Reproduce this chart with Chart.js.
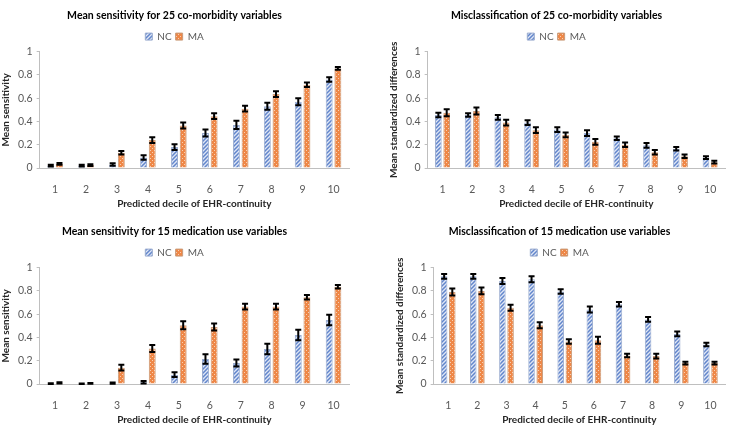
<!DOCTYPE html>
<html>
<head>
<meta charset="utf-8">
<script src="https://cdn.jsdelivr.net/npm/chart.js@4.4.1/dist/chart.umd.min.js"></script>
<style>
body { margin: 0; background: #fff; }
.panel { position: absolute; width: 376px; height: 216px; }
</style>
</head>
<body>
<div class="panel" style="left:0;top:0"><canvas id="c1" width="376" height="216"></canvas></div>
<div class="panel" style="left:376px;top:0"><canvas id="c2" width="376" height="216"></canvas></div>
<div class="panel" style="left:0;top:216px"><canvas id="c3" width="376" height="216"></canvas></div>
<div class="panel" style="left:376px;top:216px"><canvas id="c4" width="376" height="216"></canvas></div>
<script>
const deciles = ['1', '2', '3', '4', '5', '6', '7', '8', '9', '10'];
const yTicks = [0, 0.2, 0.4, 0.6, 0.8, 1];

// co-morbidity sensitivity
const sensComNC = [0.02, 0.02, 0.03, 0.09, 0.18, 0.30, 0.37, 0.53, 0.57, 0.76];
const sensComNCErr = [0.008, 0.008, 0.01, 0.02, 0.025, 0.03, 0.035, 0.03, 0.03, 0.02];
const sensComMA = [0.035, 0.025, 0.13, 0.24, 0.365, 0.445, 0.51, 0.635, 0.715, 0.855];
const sensComMAErr = [0.008, 0.008, 0.015, 0.025, 0.025, 0.025, 0.025, 0.025, 0.02, 0.012];

// co-morbidity misclassification
const miscComNC = [0.455, 0.455, 0.435, 0.39, 0.33, 0.30, 0.255, 0.195, 0.165, 0.09];
const miscComNCErr = [0.02, 0.015, 0.02, 0.02, 0.02, 0.025, 0.015, 0.02, 0.015, 0.012];
const miscComMA = [0.475, 0.49, 0.39, 0.325, 0.285, 0.225, 0.20, 0.135, 0.10, 0.05];
const miscComMAErr = [0.03, 0.03, 0.025, 0.025, 0.02, 0.025, 0.02, 0.02, 0.015, 0.012];

// medication use sensitivity
const sensMedNC = [0.003, 0.002, 0.007, 0.015, 0.08, 0.215, 0.18, 0.30, 0.42, 0.55];
const sensMedNCErr = [0.003, 0.002, 0.005, 0.01, 0.02, 0.04, 0.03, 0.045, 0.045, 0.045];
const sensMedMA = [0.01, 0.005, 0.14, 0.305, 0.505, 0.49, 0.665, 0.665, 0.745, 0.835];
const sensMedMAErr = [0.005, 0.003, 0.025, 0.03, 0.035, 0.03, 0.025, 0.025, 0.02, 0.015];

// medication use misclassification
const miscMedNC = [0.925, 0.925, 0.885, 0.90, 0.795, 0.64, 0.685, 0.555, 0.43, 0.34];
const miscMedNCErr = [0.02, 0.02, 0.025, 0.025, 0.02, 0.025, 0.02, 0.02, 0.02, 0.015];
const miscMedMA = [0.79, 0.80, 0.655, 0.505, 0.365, 0.375, 0.245, 0.24, 0.18, 0.18];
const miscMedMAErr = [0.03, 0.03, 0.025, 0.025, 0.02, 0.03, 0.015, 0.02, 0.012, 0.012];

const FONT = 'Lato, "Open Sans", sans-serif';

// Hatch fills like the Excel pattern fills
function stripePattern() {
    const c = document.createElement('canvas');
    c.width = 4; c.height = 4;
    const g = c.getContext('2d');
    g.fillStyle = '#dfe6f5';
    g.fillRect(0, 0, 4, 4);
    g.strokeStyle = '#6286cc';
    g.lineWidth = 1.5;
    g.beginPath();
    g.moveTo(-1, 5); g.lineTo(5, -1);
    g.moveTo(-1, 1); g.lineTo(1, -1);
    g.moveTo(3, 5); g.lineTo(5, 3);
    g.stroke();
    return g.createPattern(c, 'repeat');
}

function checkPattern() {
    const c = document.createElement('canvas');
    c.width = 4; c.height = 4;
    const g = c.getContext('2d');
    g.fillStyle = '#ee8747';
    g.fillRect(0, 0, 4, 4);
    g.fillStyle = '#f8cfb2';
    g.fillRect(0, 0, 1, 1);
    g.fillRect(2, 2, 1, 1);
    return g.createPattern(c, 'repeat');
}

// Error bars drawn with the chart's own y scale
const errorBars = {
    id: 'errorBars',
    afterDatasetsDraw(chart) {
        const ctx = chart.ctx;
        const y = chart.scales.y;
        ctx.save();
        ctx.strokeStyle = '#000';
        chart.data.datasets.forEach((ds, i) => {
            const meta = chart.getDatasetMeta(i);
            meta.data.forEach((bar, j) => {
                const v = ds.data[j];
                const e = ds.errors[j];
                const top = y.getPixelForValue(v + e);
                const bot = y.getPixelForValue(v - e);
                ctx.lineWidth = 2;
                ctx.beginPath();
                ctx.moveTo(bar.x, top);
                ctx.lineTo(bar.x, bot);
                ctx.moveTo(bar.x - 3, top);
                ctx.lineTo(bar.x + 3, top);
                ctx.moveTo(bar.x - 3, bot);
                ctx.lineTo(bar.x + 3, bot);
                ctx.stroke();
            });
        });
        ctx.restore();
    }
};

function makeChart(id, title, yTitle, nc, ncErr, ma, maErr, padLeft) {
    const ctx = document.getElementById(id).getContext('2d');
    return new Chart(ctx, {
        type: 'bar',
        data: {
            labels: deciles,
            datasets: [{
                label: 'NC',
                data: nc,
                errors: ncErr,
                backgroundColor: stripePattern(),
                borderColor: '#9aaccf',
                borderWidth: 1,
                categoryPercentage: 0.56,
                barPercentage: 0.8
            }, {
                label: 'MA',
                data: ma,
                errors: maErr,
                backgroundColor: checkPattern(),
                borderColor: '#c99a78',
                borderWidth: 1,
                categoryPercentage: 0.56,
                barPercentage: 0.8
            }]
        },
        options: {
            responsive: false,
            animation: false,
            layout: { padding: { left: padLeft, right: 27, top: 3, bottom: 4 } },
            plugins: {
                title: {
                    display: true,
                    text: title,
                    color: '#000',
                    font: { family: FONT, size: 10.5, weight: 'bold' },
                    padding: { top: 6, bottom: 6 }
                },
                legend: {
                    display: true,
                    labels: {
                        color: '#595959',
                        font: { family: FONT, size: 10 },
                        boxWidth: 7,
                        boxHeight: 7,
                        padding: 4
                    }
                },
                tooltip: { enabled: false }
            },
            scales: {
                x: {
                    afterFit: s => { s.height = 44; },
                    grid: { display: false },
                    border: { color: '#bfbfbf', width: 1 },
                    ticks: { color: '#595959', font: { family: FONT, size: 10.5 }, padding: 7 },
                    title: {
                        display: true,
                        text: 'Predicted decile of EHR-continuity',
                        color: '#262626',
                        font: { family: FONT, size: 10, weight: 'bold' },
                        padding: { top: 0, bottom: 2 }
                    }
                },
                y: {
                    min: 0,
                    max: 1,
                    afterBuildTicks: s => { s.ticks = yTicks.map(v => ({ value: v })); },
                    grid: { display: true, drawOnChartArea: false, drawTicks: true, tickLength: 3, color: '#bfbfbf' },
                    border: { color: '#bfbfbf', width: 1 },
                    ticks: {
                        color: '#595959',
                        font: { family: FONT, size: 10.5 },
                        padding: 4,
                        callback: v => String(Math.round(v * 10) / 10)
                    },
                    title: {
                        display: true,
                        text: yTitle,
                        color: '#262626',
                        font: { family: FONT, size: 10, weight: 'bold' },
                        padding: { top: 0, bottom: 2 }
                    }
                }
            }
        },
        plugins: [errorBars]
    });
}

makeChart('c1', 'Mean sensitivity for 25 co-morbidity variables', 'Mean sensitivity',
    sensComNC, sensComNCErr, sensComMA, sensComMAErr, 0);
makeChart('c2', 'Misclassification of 25 co-morbidity variables', 'Mean standardized differences',
    miscComNC, miscComNCErr, miscComMA, miscComMAErr, 12);
makeChart('c3', 'Mean sensitivity for 15 medication use variables', 'Mean sensitivity',
    sensMedNC, sensMedNCErr, sensMedMA, sensMedMAErr, 0);
makeChart('c4', 'Misclassification of 15 medication use variables', 'Mean standardized differences',
    miscMedNC, miscMedNCErr, miscMedMA, miscMedMAErr, 18);
</script>
</body>
</html>
